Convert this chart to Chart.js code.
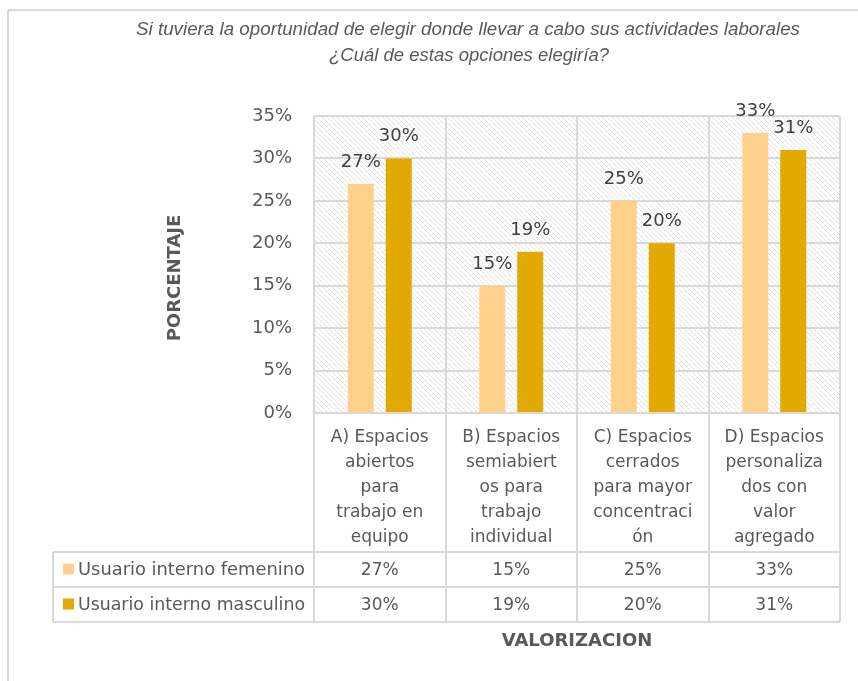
<!DOCTYPE html>
<html>
<head>
<meta charset="utf-8">
<script src="https://cdn.jsdelivr.net/npm/chart.js@4.4.0/dist/chart.umd.min.js"></script>
<style>
html, body { margin: 0; padding: 0; background: #fff; }
#wrap { width: 858px; height: 681px; }
</style>
</head>
<body>
<div id="wrap"><canvas id="chart" width="858" height="681"></canvas></div>
<script>
// data
const titleLines = [
    'Si tuviera la oportunidad de elegir donde llevar a cabo sus actividades laborales',
    '¿Cuál de estas opciones elegiría?'
];
const categories = [
    ['A) Espacios', 'abiertos', 'para', 'trabajo en', 'equipo'],
    ['B) Espacios', 'semiabiert', 'os para', 'trabajo', 'individual'],
    ['C) Espacios', 'cerrados', 'para mayor', 'concentraci', 'ón'],
    ['D) Espacios', 'personaliza', 'dos con', 'valor', 'agregado']
];
const seriesNames = ['Usuario interno femenino', 'Usuario interno masculino'];
const femenino = [0.27, 0.15, 0.25, 0.33];
const masculino = [0.30, 0.19, 0.20, 0.31];
const yAxisTitle = 'PORCENTAJE';
const xAxisTitle = 'VALORIZACION';

const colors = ['#ffd18b', '#e2aa00'];
const lineColor = '#d9d9d9';
const textColor = '#595959';
const font = 'DejaVu Sans';

const pct = v => Math.round(v * 100) + '%';

function makeHatch() {
    const c = document.createElement('canvas');
    c.width = 5; c.height = 5;
    const g = c.getContext('2d');
    g.fillStyle = '#fff';
    g.fillRect(0, 0, 5, 5);
    g.strokeStyle = '#e2e2e2';
    g.lineWidth = 1;
    g.beginPath();
    g.moveTo(-1, -1); g.lineTo(6, 6);
    g.moveTo(-1, 4); g.lineTo(1, 6);
    g.moveTo(4, -1); g.lineTo(6, 1);
    g.stroke();
    return c;
}

const rowH = 35;

const tablePlugin = {
    id: 'excelTable',
    beforeDraw(chart) {
        const { ctx, chartArea: a } = chart;
        ctx.save();
        ctx.fillStyle = ctx.createPattern(makeHatch(), 'repeat');
        ctx.fillRect(a.left, a.top, a.right - a.left, a.bottom - a.top);
        ctx.restore();
    },
    afterDraw(chart) {
        const { ctx, chartArea: a, scales } = chart;
        const x = scales.x;
        const step = x.getPixelForValue(1) - x.getPixelForValue(0);
        const tableTop = 552;
        const tableBottom = tableTop + rowH * seriesNames.length;
        const tableLeft = 53;

        ctx.save();
        ctx.strokeStyle = lineColor;
        ctx.lineWidth = 2;

        // outer frame of the chart
        ctx.beginPath();
        ctx.moveTo(8, 10); ctx.lineTo(chart.width, 10);
        ctx.moveTo(8, 10); ctx.lineTo(8, chart.height);
        ctx.stroke();

        // vertical separators, plot down through the table
        ctx.beginPath();
        for (let i = 0; i <= categories.length; i++) {
            const px = Math.round(x.getPixelForValue(i) - step / 2);
            ctx.moveTo(px, a.top); ctx.lineTo(px, tableBottom);
        }
        ctx.moveTo(tableLeft, tableTop); ctx.lineTo(tableLeft, tableBottom);
        for (let r = 0; r <= seriesNames.length; r++) {
            const py = tableTop + r * rowH;
            ctx.moveTo(tableLeft, py); ctx.lineTo(a.right, py);
        }
        ctx.stroke();

        // table rows
        ctx.textBaseline = 'middle';
        const rows = [femenino, masculino];
        rows.forEach((vals, r) => {
            const cy = tableTop + r * rowH + rowH / 2;
            ctx.fillStyle = colors[r];
            ctx.fillRect(63, cy - 6, 11, 11);
            ctx.fillStyle = textColor;
            ctx.textAlign = 'left';
            ctx.font = '18px "' + font + '"';
            ctx.fillText(seriesNames[r], 78, cy + 1, 227);
            ctx.textAlign = 'center';
            ctx.font = '17px "' + font + '"';
            vals.forEach((v, i) => ctx.fillText(pct(v), x.getPixelForValue(i), cy + 1));
        });

        // title
        ctx.fillStyle = textColor;
        ctx.textAlign = 'center';
        ctx.font = 'italic 19px "Liberation Sans Narrow", "Liberation Sans"';
        ctx.fillText(titleLines[0], 468, 30, 664);
        ctx.fillText(titleLines[1], 469, 56, 280);

        // axis titles
        ctx.font = 'bold 18px "' + font + '"';
        ctx.fillText(xAxisTitle, 577, 641);
        ctx.translate(175, 278);
        ctx.rotate(-Math.PI / 2);
        ctx.fillText(yAxisTitle, 0, 0);
        ctx.restore();
    },
    afterDatasetsDraw(chart) {
        const { ctx } = chart;
        ctx.save();
        ctx.font = '18px "' + font + '"';
        ctx.fillStyle = '#404040';
        ctx.textAlign = 'center';
        ctx.textBaseline = 'alphabetic';
        chart.data.datasets.forEach((ds, d) => {
            chart.getDatasetMeta(d).data.forEach((el, i) => {
                ctx.fillText(pct(ds.data[i]), el.x, el.y - 17);
            });
        });
        ctx.restore();
    }
};

new Chart(document.getElementById('chart'), {
    type: 'bar',
    data: {
        labels: categories,
        datasets: [
            { label: seriesNames[0], data: femenino, backgroundColor: colors[0] },
            { label: seriesNames[1], data: masculino, backgroundColor: colors[1] }
        ]
    },
    options: {
        responsive: false,
        animation: false,
        layout: { padding: { top: 116, right: 18, left: 0, bottom: 0 } },
        datasets: {
            bar: { categoryPercentage: 0.578, barPercentage: 0.684 }
        },
        plugins: {
            legend: { display: false },
            title: { display: false },
            tooltip: { enabled: false }
        },
        scales: {
            x: {
                grid: { display: false },
                border: { display: false },
                ticks: {
                    color: textColor,
                    font: { family: font, size: 17, lineHeight: 1.47 },
                    padding: 4,
                    autoSkip: false,
                    maxRotation: 0
                },
                afterFit(s) { s.height = 268; }
            },
            y: {
                min: 0,
                max: 0.35,
                grid: { color: lineColor, lineWidth: 2, drawTicks: false },
                border: { display: false },
                ticks: {
                    stepSize: 0.05,
                    color: textColor,
                    font: { family: font, size: 18 },
                    padding: 22,
                    callback: v => pct(v)
                },
                afterFit(s) { s.width = 314; }
            }
        }
    },
    plugins: [tablePlugin]
});
</script>
</body>
</html>
